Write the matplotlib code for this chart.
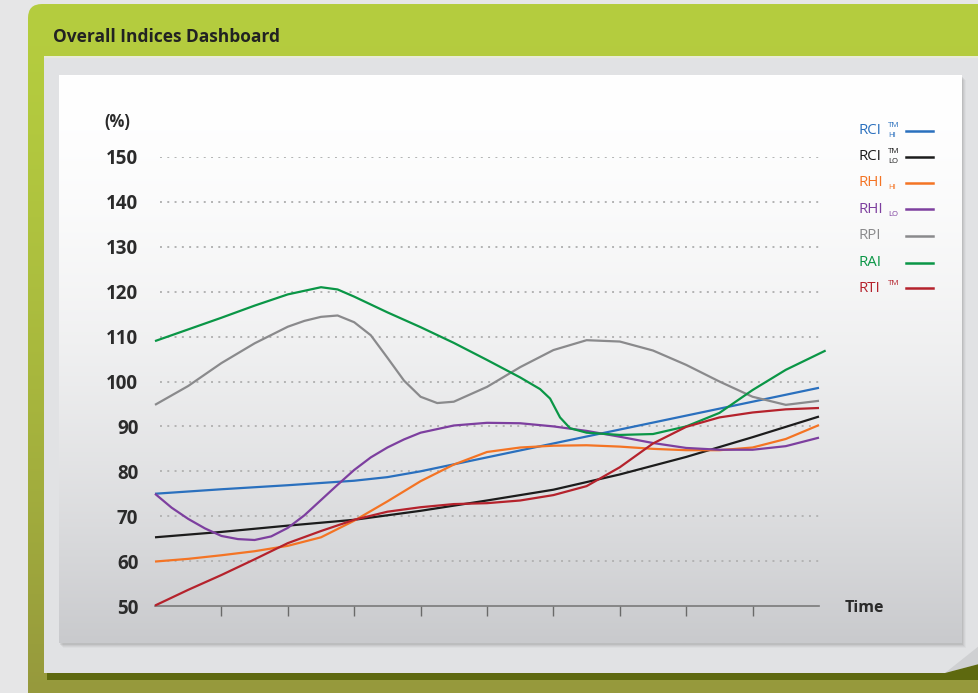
import numpy as np
import matplotlib
matplotlib.use("Agg")
import matplotlib.pyplot as plt
from matplotlib.patches import FancyBboxPatch, Rectangle, Polygon

plt.rcParams['font.family'] = ['Open Sans', 'DejaVu Sans']

# ---- data (x = time ticks 0..10) ----
half = [i * 0.5 for i in range(21)]

rci_hi_x = [0, 1, 2, 3, 3.5, 4, 5, 6, 7, 8, 9, 10]
rci_hi = [75, 76, 76.9, 77.9, 78.7, 80, 83.1, 86.2, 89.3, 92.4, 95.5, 98.6]

rci_lo_x = [0, 1, 2, 3, 4, 5, 6, 7, 8, 9, 10]
rci_lo = [65.3, 66.5, 67.9, 69.2, 71.2, 73.5, 75.9, 79.3, 83.2, 87.6, 92.2]

rhi_hi_x = half
rhi_hi = [59.9, 60.5, 61.3, 62.2, 63.4, 65.3, 69.0, 73.3, 77.8, 81.5, 84.3,
          85.3, 85.7, 85.8, 85.5, 85.0, 84.7, 84.7, 85.3, 87.2, 90.3]

rhi_lo_x = [0, 0.25, 0.5, 0.75, 1, 1.25, 1.5, 1.75, 2, 2.25, 2.5, 2.75, 3,
            3.25, 3.5, 3.75, 4, 4.5, 5, 5.5, 6, 6.5, 7, 7.5, 8, 8.5, 9, 9.5, 10]
rhi_lo = [75, 71.9, 69.4, 67.3, 65.6, 64.9, 64.7, 65.5, 67.4, 70.2, 73.6,
          77.0, 80.3, 83.1, 85.3, 87.1, 88.6, 90.2, 90.8, 90.7, 90.0, 89.0,
          87.7, 86.3, 85.2, 84.8, 84.8, 85.6, 87.5]

rpi_x = [0, 0.5, 1, 1.5, 2, 2.25, 2.5, 2.75, 3, 3.25, 3.5, 3.75, 4, 4.25,
         4.5, 5, 5.5, 6, 6.5, 7, 7.5, 8, 8.5, 9, 9.5, 10]
rpi = [94.8, 99, 104.1, 108.5, 112.2, 113.5, 114.4, 114.7, 113.2, 110.3,
       105.3, 100.2, 96.6, 95.2, 95.5, 98.8, 103.2, 107, 109.2, 108.9, 106.9,
       103.7, 100, 96.6, 94.8, 95.7]

rai_x = [0, 0.5, 1, 1.5, 2, 2.5, 2.75, 3, 3.5, 4, 4.5, 5, 5.5, 5.8, 5.95,
         6.1, 6.25, 6.5, 7, 7.5, 8, 8.5, 9, 9.5, 10.1]
rai = [109, 111.6, 114.2, 116.9, 119.4, 121.0, 120.5, 118.9, 115.4, 112.1,
       108.6, 104.8, 100.9, 98.3, 96.2, 92, 89.6, 88.6, 88.1, 88.3, 90, 93,
       98.1, 102.6, 106.9]

rti_x = half
rti = [50.1, 53.6, 56.9, 60.4, 64, 66.7, 69.2, 71, 72, 72.7, 72.9,
       73.5, 74.7, 76.7, 80.9, 86.2, 89.9, 92, 93.1, 93.8, 94.1]

series = [
    ("RCI", "TM", "HI", rci_hi_x, rci_hi, "#2a70be"),
    ("RCI", "TM", "LO", rci_lo_x, rci_lo, "#1c1c1c"),
    ("RHI", "", "HI", rhi_hi_x, rhi_hi, "#f47424"),
    ("RHI", "", "LO", rhi_lo_x, rhi_lo, "#7d3f9f"),
    ("RPI", "", "", rpi_x, rpi, "#8a8a8c"),
    ("RAI", "", "", rai_x, rai, "#0a9646"),
    ("RTI", "TM", "", rti_x, rti, "#b5222c"),
]
yticks = [50, 60, 70, 80, 90, 100, 110, 120, 130, 140, 150]

W, H = 979, 693
fig = plt.figure(figsize=(W / 100, H / 100), dpi=100)
fig.patch.set_facecolor("#e6e6e7")

# background frame drawn in pixel coordinates
bg = fig.add_axes([0, 0, 1, 1])
bg.set_xlim(0, W)
bg.set_ylim(H, 0)
bg.axis("off")

panel = FancyBboxPatch((28, 4), W, H + 40, boxstyle="round,pad=0,rounding_size=14",
                       fc="none", ec="none")
bg.add_patch(panel)
grad = np.linspace(0, 1, 256)[:, None]
top = np.array([181, 205, 63]) / 255
bot = np.array([150, 153, 60]) / 255
img = top + (bot - top) * grad[..., None] ** 1.4
im = bg.imshow(img, extent=(28, W, H, 4), aspect="auto", zorder=1)
im.set_clip_path(panel)

bg.add_patch(Rectangle((44, 56), W - 44, 617, fc="#e1e2e4", ec="none", zorder=2))
bg.add_patch(Rectangle((44, 56), W - 44, 1.5, fc="#e8ebd8", ec="none", zorder=2))
bg.add_patch(Rectangle((47, 673), W - 47, 7, fc="#5e690f", ec="none", zorder=2))
bg.add_patch(Polygon([(945, 673), (W, 646), (W, 664)], fc="#cfd0d2", ec="none", zorder=3))
bg.add_patch(Polygon([(945, 673), (W, 664), (W, 680), (945, 680)], fc="#5e690f", ec="none", zorder=3))

# card with shadow and vertical gradient
for i, a in enumerate([0.10, 0.08, 0.06, 0.04]):
    bg.add_patch(Rectangle((59 + 1 + i, 75 + 2 + i), 903, 568, fc="#555555",
                           ec="none", alpha=a, zorder=3))
c_top = np.array([255, 255, 255]) / 255
c_bot = np.array([201, 202, 205]) / 255
card = c_top + (c_bot - c_top) * grad[..., None] ** 1.7
bg.imshow(card, extent=(59, 962, 643, 75), aspect="auto", zorder=4)

bg.text(53, 37, "Overall Indices Dashboard", fontsize=12.5, fontweight="bold",
        color="#222222", va="center", ha="left", zorder=5)

# main chart axes
ax = fig.add_axes([155 / W, 87 / H, 664 / W, 449 / H])
ax.patch.set_alpha(0)
ax.set_xlim(0, 10)
ax.set_ylim(50, 150)
for s in ["top", "right", "left"]:
    ax.spines[s].set_visible(False)
ax.spines["bottom"].set_color("#7a7a7a")
ax.spines["bottom"].set_linewidth(1.2)

for y in yticks[1:]:
    ax.plot([0.08, 10], [y, y], color="#b3b3b3", lw=1.4,
            linestyle=(0, (1, 2.75)), zorder=1)

ax.set_xticks(range(1, 10))
ax.set_xticklabels([])
ax.tick_params(axis="x", direction="out", length=7.5, width=1, color="#6a6a6a")
ax.set_yticks(yticks)
ax.set_yticklabels([str(v) for v in yticks], fontsize=13.5, fontweight="bold",
                   color="#2b2b2b")
ax.tick_params(axis="y", length=0, pad=12)

for name, sup, sub, xs, ys, col in series:
    ax.plot(xs, ys, color=col, lw=1.6, clip_on=False, zorder=3,
            solid_capstyle="butt", solid_joinstyle="round")

fig.text(104 / W, 1 - 122 / H, "(%)", fontsize=12, fontweight="bold",
         color="#2b2b2b", va="center", ha="left")
fig.text(845 / W, 1 - 608 / H, "Time", fontsize=11.5, fontweight="bold",
         color="#2b2b2b", va="center", ha="left")

# legend
row_y = [130.7, 156.7, 182.7, 209.3, 236, 262.7, 288.3]
for (name, sup, sub, xs, ys, col), ry in zip(series, row_y):
    fig.text(859 / W, 1 - ry / H, name, fontsize=10.8, color=col,
             va="center", ha="left")
    if sup:
        fig.text(888 / W, 1 - (ry - 5) / H, sup, fontsize=5.8, color=col,
                 va="center", ha="left")
    if sub:
        fig.text(888 / W, 1 - (ry + 5) / H, sub, fontsize=5.6, color=col,
                 va="center", ha="left")
    bg.plot([906, 933], [ry, ry], color=col, lw=1.8, zorder=6)

fig.savefig("out.png", dpi=100)
